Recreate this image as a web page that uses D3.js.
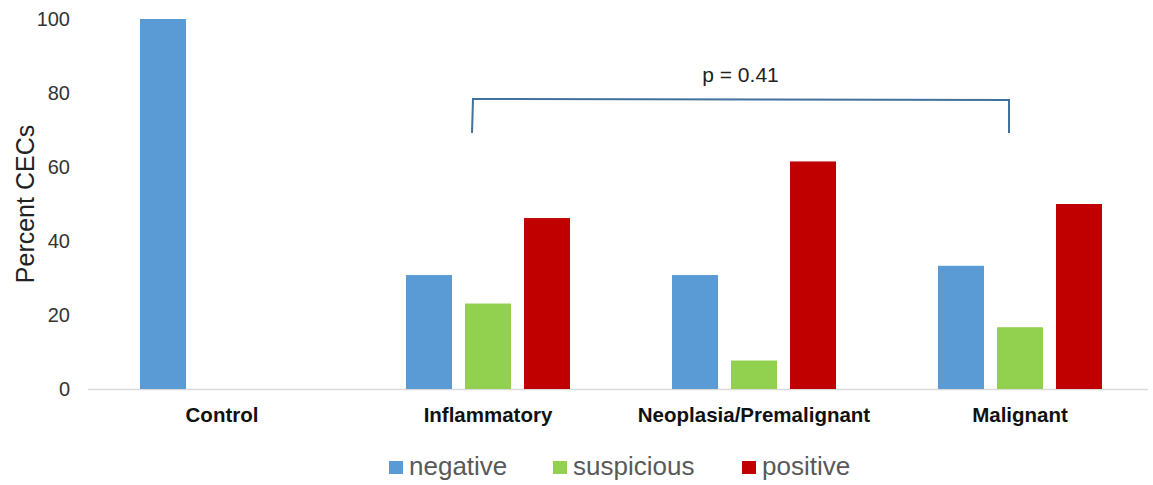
<!DOCTYPE html>
<html><head><meta charset="utf-8">
<script src="https://cdn.jsdelivr.net/npm/d3@7"></script>
<style>body{margin:0;background:#fff}svg{display:block}</style>
</head><body>
<svg id="c" width="1153" height="485"></svg>
<script>
const categories = ["Control","Inflammatory","Neoplasia/Premalignant","Malignant"];
const seriesNames = ["negative","suspicious","positive"];
const negative = [100, 30.8, 30.8, 33.3];
const suspicious = [0, 23.1, 7.7, 16.7];
const positive = [0, 46.2, 61.5, 50.0];
const yTicks = [0,20,40,60,80,100];
const pLabel = "p = 0.41";
const colors = ["#5b9bd5","#92d050","#c00000"];
const values = [negative, suspicious, positive];
const FONT = "Liberation Sans, Arial, sans-serif";

const svg = d3.select("#c");
const x = d3.scaleBand().domain(categories).range([89,1153]).paddingInner(0).paddingOuter(0);
const y = d3.scaleLinear().domain([0,100]).range([389,19]);
const inner = d3.scaleBand().domain(seriesNames).range([0,164]).paddingInner(0.22);

// axis line
svg.append("line").attr("x1",88).attr("x2",1148).attr("y1",y(0)+0.5).attr("y2",y(0)+0.5)
  .attr("stroke","#d9d9d9").attr("stroke-width",1.5);

// y ticks
svg.append("g").selectAll("text").data(yTicks).join("text")
  .attr("x",70).attr("y",d=>y(d)).attr("dy","0.35em").attr("text-anchor","end")
  .attr("font-family",FONT).attr("font-size",20).attr("fill","#333")
  .text(d=>d);

// y title
svg.append("text").attr("transform","translate(34,"+y(50)+") rotate(-90)")
  .attr("text-anchor","middle").attr("font-family",FONT)
  .attr("font-size",25).attr("fill","#222").text("Percent CECs");

// bars
seriesNames.forEach((s,si)=>{
  svg.append("g").selectAll("rect").data(categories.map((c,i)=>({c,v:values[si][i]})).filter(d=>d.v>0)).join("rect")
    .attr("x",d=>x(d.c)+x.bandwidth()/2-82+inner(s))
    .attr("width",inner.bandwidth())
    .attr("y",d=>y(d.v)).attr("height",d=>y(0)-y(d.v))
    .attr("fill",colors[si]);
});

// category labels
svg.append("g").selectAll("text").data(categories).join("text")
  .attr("x",d=>x(d)+x.bandwidth()/2).attr("y",422).attr("text-anchor","middle")
  .attr("font-family",FONT).attr("font-weight","bold")
  .attr("font-size",20.5).attr("fill","#111").text(d=>d);

// bracket
const bx1 = x("Inflammatory")+x.bandwidth()/2-16, bx2 = x("Malignant")+x.bandwidth()/2-11;
svg.append("path").attr("d",`M${bx1},133 L${bx1+1},99 L${bx2},100 L${bx2},133`)
  .attr("fill","none").attr("stroke","#41719c").attr("stroke-width",2);
svg.append("text").attr("x",(bx1+bx2)/2).attr("y",82).attr("text-anchor","middle")
  .attr("font-family",FONT).attr("font-size",21).attr("fill","#222").text(pLabel);

// legend
const legX = [389,553,742];
const lg = svg.append("g").selectAll("g").data(seriesNames).join("g")
  .attr("transform",(d,i)=>`translate(${legX[i]},0)`);
lg.append("rect").attr("x",0).attr("y",461).attr("width",14).attr("height",13).attr("fill",(d,i)=>colors[i]);
lg.append("text").attr("x",20).attr("y",475).attr("font-family",FONT)
  .attr("font-size",26).attr("fill","#595959").text(d=>d);
</script>
</body></html>
